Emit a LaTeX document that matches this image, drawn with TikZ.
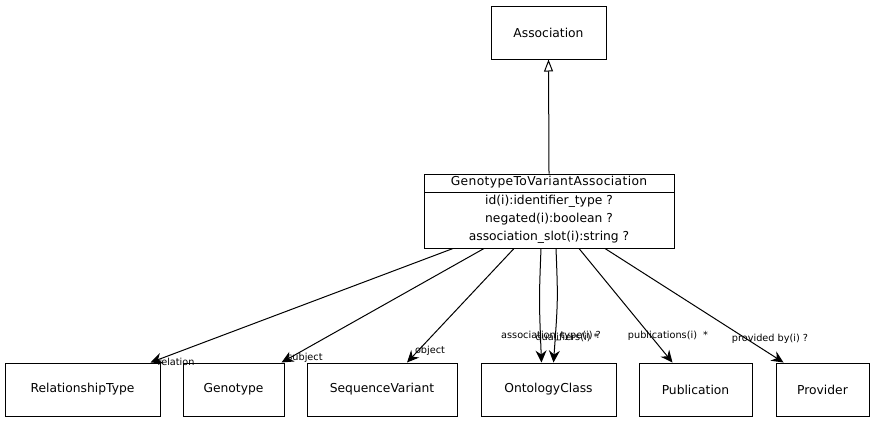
\documentclass[tikz,border=0pt]{standalone}
\usepackage{fontspec}
\setmainfont{DejaVu Sans}
\newfontfamily\hdrfont[LetterSpace=3]{DejaVu Sans}
\usetikzlibrary{arrows.meta}
\begin{document}
\begin{tikzpicture}[x=1pt,y=-1pt,
  cls/.style={draw,line width=1pt,inner sep=0pt,font=\fontsize{12.3}{14}\selectfont},
  row/.style={inner sep=0pt,font=\fontsize{12.3}{14}\selectfont},
  lbl/.style={font=\fontsize{9.7}{10}\selectfont,inner sep=0pt},
  ref/.style={line width=1pt,-{Stealth[length=12pt,width=11pt,inset=4pt]}},
  isa/.style={line width=1pt,-{Triangle[open,length=12pt,width=9pt,fill=white]}}]
\useasboundingbox (0,0) rectangle (874,423);
\node[cls,minimum width=115pt,minimum height=53pt] (assoc) at (548.5,32.5) {Association};
% main class
\node[draw,line width=1pt,minimum width=250pt,minimum height=74pt,inner sep=0pt] (gtva) at (549,211) {};
\draw[line width=1pt] (424,192) -- (674,192);
\node[row,font=\hdrfont\fontsize{12.3}{14}\selectfont] (h) at (549,182.5) {GenotypeToVariantAssociation};
\node[row] (r1) at (549,201) {id(i):identifier\_type ?};
\node[row] (r2) at (549,219) {negated(i):boolean ?};
\node[row] (r3) at (549,237.5) {association\_slot(i):string ?};
% targets
\node[cls,minimum width=155pt,minimum height=53pt] (rt) at (82.5,389.5) {RelationshipType};
\node[cls,minimum width=101pt,minimum height=53pt] (geno) at (233.5,389.5) {Genotype};
\node[cls,minimum width=150pt,minimum height=53pt] (sv) at (382,389.5) {SequenceVariant};
\node[cls,minimum width=135pt,minimum height=53pt] (oc) at (548.5,389.5) {OntologyClass};
\node[cls,minimum width=113pt,minimum height=53pt] (pub) at (695.5,389.5) {Publication};
\node[cls,minimum width=93pt,minimum height=53pt] (prov) at (822.5,389.5) {Provider};
% edges
\draw[isa] (gtva.north) -- (assoc.south);
\draw[ref] ([xshift=-96pt]gtva.south) -- ([xshift=68pt]rt.north);
\draw[ref] ([xshift=-65pt]gtva.south) -- ([xshift=48pt]geno.north);
\draw[ref] ([xshift=-35pt]gtva.south) -- ([xshift=25pt]sv.north);
\draw[ref] ([xshift=-8pt]gtva.south) .. controls (539,300) .. ([xshift=-7pt]oc.north);
\draw[ref] ([xshift=7pt]gtva.south) .. controls (558,300) .. ([xshift=5pt]oc.north);
\draw[ref] ([xshift=30pt]gtva.south) -- ([xshift=-23pt]pub.north);
\draw[ref] ([xshift=56pt]gtva.south) -- ([xshift=-39pt]prov.north);
% labels
\node[lbl] (l1) at (176,362) {relation};
\node[lbl] (l2) at (305,358) {subject};
\node[lbl] (l3) at (430,351) {object};
\node[lbl] (l4) at (551,336) {association\_type(i) ?};
\node[lbl] (l5) at (567,338) {qualifiers(i) *};
\node[lbl] (l6) at (668,336) {publications(i)\ \ *};
\node[lbl] (l7) at (770,339) {provided by(i) ?};
\end{tikzpicture}
\end{document}
